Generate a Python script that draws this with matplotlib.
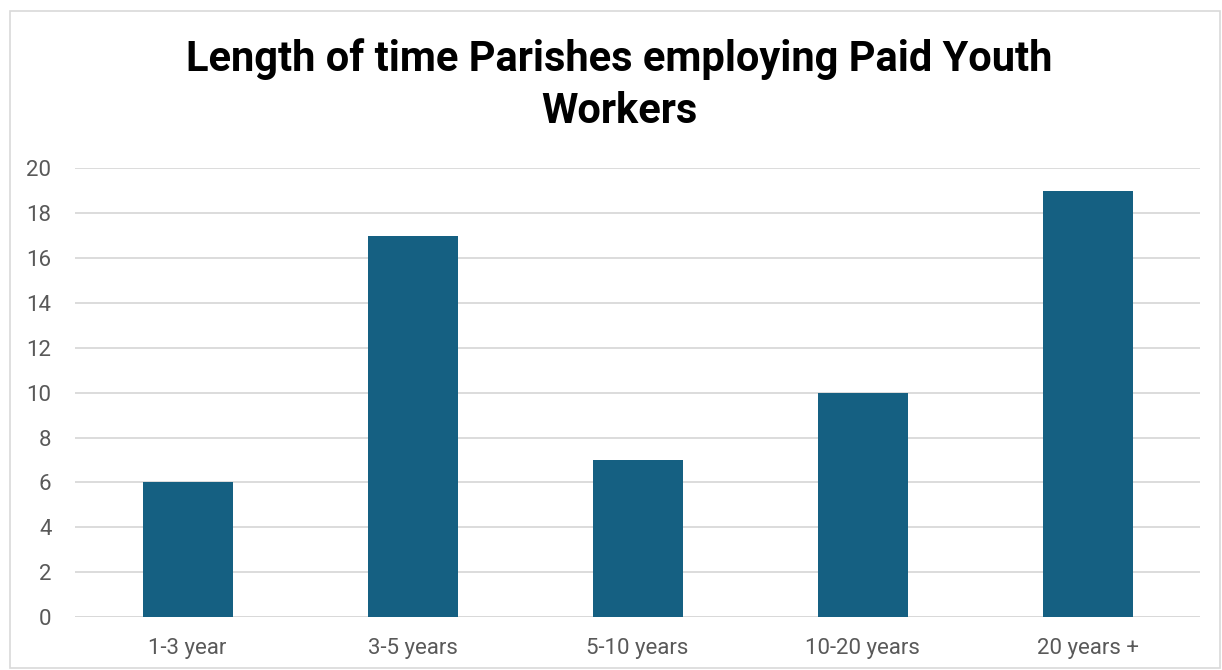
import matplotlib
matplotlib.use('Agg')
import matplotlib.pyplot as plt
from matplotlib.patches import Rectangle

# ── 데이터 ─────────────────────────────────────────────
categories = ["1-3 year", "3-5 years", "5-10 years", "10-20 years", "20 years +"]
counts = [6, 17, 7, 10, 19]
yticks = list(range(0, 21, 2))

TITLE = "Length of time Parishes employing Paid Youth\nWorkers"
BAR_COLOR = "#156082"
GRID_COLOR = "#d9d9d9"
TEXT_COLOR = "#595959"

plt.rcParams['font.family'] = ['Roboto', 'DejaVu Sans']

fig = plt.figure(figsize=(12.22, 6.70), dpi=100)
ax = fig.add_axes([0.0614, 0.079, 0.9206, 0.670])

x = list(range(len(categories)))
ax.bar(x, counts, width=0.4, color=BAR_COLOR, zorder=3)

ax.set_xlim(-0.5, len(categories) - 0.5)
ax.set_ylim(0, 20)
ax.set_yticks(yticks)
ax.set_xticks(x)
ax.set_xticklabels(categories)

ax.yaxis.grid(True, color=GRID_COLOR, linewidth=1.3, zorder=0)
ax.set_axisbelow(True)
for s in ax.spines.values():
    s.set_visible(False)
ax.axhline(0, color=GRID_COLOR, linewidth=1.3, zorder=1)

ax.tick_params(axis='both', length=0, labelsize=16, labelcolor=TEXT_COLOR)
ax.tick_params(axis='y', pad=17)
ax.tick_params(axis='x', pad=15)

fig.text(0.507, 0.873, TITLE, ha='center', va='center', fontsize=30,
         fontweight='bold', color='black', linespacing=1.36)

# 차트 테두리
fig.patches.append(Rectangle((0.008, 0.003), 0.99, 0.98, transform=fig.transFigure,
                             fill=False, edgecolor=GRID_COLOR, linewidth=1.2))

fig.savefig("out.png", dpi=100)
